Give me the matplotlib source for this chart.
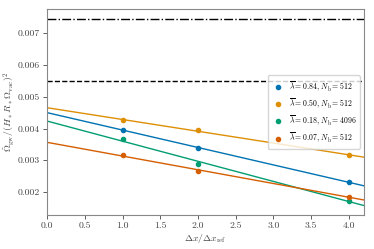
import numpy as np
import matplotlib
matplotlib.use("Agg")
import matplotlib.pyplot as plt

plt.rcParams['font.family'] = 'serif'
plt.rcParams['font.serif'] = ['cmr10', 'DejaVu Serif']
plt.rcParams['mathtext.fontset'] = 'cm'
plt.rcParams['axes.formatter.use_mathtext'] = True
plt.rcParams['axes.unicode_minus'] = False

dx = [1.0, 2.0, 4.0]
labels = [r'$\overline{\lambda}=0.84$, $N_{\rm b}=512$',
          r'$\overline{\lambda}=0.50$, $N_{\rm b}=512$',
          r'$\overline{\lambda}=0.18$, $N_{\rm b}=4096$',
          r'$\overline{\lambda}=0.07$, $N_{\rm b}=512$']
values = [
    [0.00396, 0.00339, 0.00231],
    [0.00426, 0.00395, 0.00316],
    [0.00366, 0.00288, 0.00173],
    [0.00316, 0.00266, 0.00185],
]
colors = ['#0173b2', '#de8f05', '#029e73', '#d55e00']
hline_dashdot = 0.00744
hline_dashed = 0.00550

fig = plt.figure(figsize=(3.74, 2.49), dpi=100)
ax = fig.add_axes([0.126, 0.137, 0.847, 0.825])

xfit = np.linspace(0, 4.2, 50)
for v, c, lab in zip(values, colors, labels):
    p = np.polyfit(dx, v, 1)
    ax.plot(xfit, np.polyval(p, xfit), color=c, lw=1.0)
    ax.plot(dx, v, 'o', color=c, ms=3, label=lab, linestyle='none')

ax.axhline(hline_dashdot, color='k', ls='-.', lw=1.0)
ax.axhline(hline_dashed, color='k', ls='--', lw=1.0)

ax.set_xlim(0, 4.2)
ax.set_ylim(0.00128, 0.00775)
ax.set_xticks([0, 0.5, 1, 1.5, 2, 2.5, 3, 3.5, 4])
ax.set_yticks([0.002, 0.003, 0.004, 0.005, 0.006, 0.007])
ax.set_yticklabels(['0.002', '0.003', '0.004', '0.005', '0.006', '0.007'])
ax.set_xticklabels(['0.0', '0.5', '1.0', '1.5', '2.0', '2.5', '3.0', '3.5', '4.0'])
ax.tick_params(labelsize=7, length=3, width=0.6, colors='#444444', pad=2)
for s in ax.spines.values():
    s.set_color('#888888')
    s.set_linewidth(0.8)
ax.set_xlabel(r'$\Delta x/\Delta x_{\rm ref}$', fontsize=7, color='#444444')
ax.set_ylabel(r'$\hat{\Omega}_{\rm gw}/(H_* R_* \Omega_{\rm vac})^2$', fontsize=7, color='#444444')
ax.xaxis.set_label_coords(0.5, -0.085)
ax.yaxis.set_label_coords(-0.095, 0.5)
ax.legend(loc='center right', bbox_to_anchor=(1.0, 0.5), fontsize=5.6, handletextpad=0.6,
          borderpad=0.5, labelspacing=0.35, handlelength=1.6)

fig.savefig('out.png', dpi=100)
